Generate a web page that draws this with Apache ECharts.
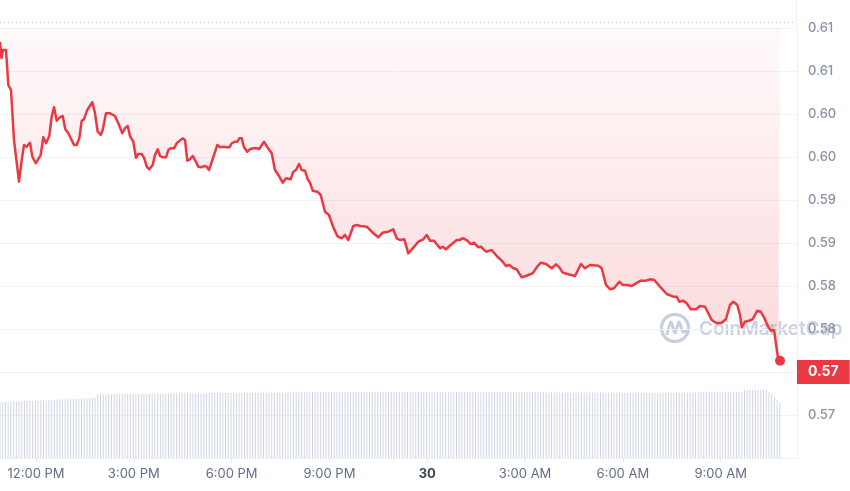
<!DOCTYPE html>
<html><head><meta charset="utf-8">
<script src="https://cdn.jsdelivr.net/npm/echarts@6/dist/echarts.min.js"></script>
<style>html,body{margin:0;padding:0;background:#fff}#c{width:850px;height:491px}</style>
</head><body><div id="c"></div>
<script>
// time = hours since 00:00 on the 29th
const priceTimes = [10.896,10.942,10.988,11.080,11.151,11.233,11.325,11.479,11.562,11.632,11.715,11.816,11.887,11.991,12.144,12.224,12.307,12.408,12.482,12.552,12.635,12.736,12.819,12.899,12.991,13.166,13.248,13.328,13.402,13.472,13.573,13.727,13.810,13.892,13.984,14.046,14.147,14.270,14.423,14.524,14.647,14.730,14.813,14.883,14.984,15.067,15.138,15.242,15.322,15.395,15.475,15.579,15.650,15.733,15.803,15.886,15.987,16.058,16.131,16.233,16.315,16.499,16.570,16.640,16.723,16.806,16.877,16.978,17.082,17.153,17.235,17.306,17.438,17.561,17.643,17.726,17.849,17.929,18.002,18.103,18.174,18.235,18.309,18.379,18.481,18.564,18.665,18.769,18.849,18.993,19.085,19.229,19.330,19.432,19.566,19.668,19.812,19.892,19.974,20.066,20.149,20.250,20.333,20.404,20.486,20.628,20.732,20.864,20.986,21.118,21.241,21.376,21.477,21.578,21.732,21.854,21.937,22.142,22.296,22.498,22.633,22.805,22.958,23.063,23.164,23.296,23.418,23.553,23.726,23.879,23.983,24.084,24.207,24.391,24.473,24.575,24.719,24.903,24.983,25.105,25.228,25.332,25.434,25.566,25.648,25.740,25.823,25.976,26.130,26.314,26.415,26.516,26.639,26.743,26.896,27.028,27.234,27.357,27.479,27.642,27.817,27.948,28.050,28.154,28.326,28.531,28.715,28.838,28.991,29.246,29.350,29.482,29.605,29.727,29.890,29.994,30.135,30.270,30.402,30.546,30.709,30.853,30.963,31.138,31.344,31.546,31.650,31.730,31.853,31.957,32.080,32.242,32.365,32.518,32.620,32.724,32.877,33.031,33.163,33.285,33.387,33.509,33.592,33.644,33.745,33.877,33.981,34.122,34.227,34.328,34.429,34.533,34.635,34.696,34.767,34.819];
const priceValues = [0.60837,0.60651,0.60744,0.60744,0.60337,0.60279,0.59698,0.59213,0.59465,0.59640,0.59620,0.59666,0.59504,0.59427,0.59523,0.59729,0.59659,0.59744,0.59969,0.60078,0.59922,0.59962,0.59977,0.59822,0.59776,0.59640,0.59640,0.59717,0.59922,0.59938,0.60047,0.60136,0.60008,0.59794,0.59756,0.59814,0.60008,0.60008,0.59977,0.59892,0.59776,0.59834,0.59860,0.59744,0.59678,0.59492,0.59535,0.59535,0.59485,0.59387,0.59357,0.59407,0.59523,0.59590,0.59512,0.59497,0.59497,0.59581,0.59601,0.59601,0.59659,0.59717,0.59698,0.59457,0.59473,0.59512,0.59465,0.59387,0.59380,0.59395,0.59387,0.59349,0.59497,0.59640,0.59613,0.59620,0.59613,0.59613,0.59659,0.59678,0.59678,0.59717,0.59717,0.59613,0.59562,0.59590,0.59601,0.59601,0.59593,0.59678,0.59620,0.59543,0.59349,0.59291,0.59201,0.59252,0.59241,0.59329,0.59349,0.59419,0.59349,0.59341,0.59241,0.59201,0.59108,0.59097,0.59058,0.58864,0.58826,0.58683,0.58581,0.58555,0.58593,0.58535,0.58698,0.58709,0.58698,0.58690,0.58631,0.58566,0.58620,0.58631,0.58659,0.58555,0.58535,0.58543,0.58380,0.58438,0.58515,0.58543,0.58593,0.58527,0.58527,0.58438,0.58457,0.58427,0.58477,0.58535,0.58535,0.58555,0.58527,0.58488,0.58504,0.58450,0.58457,0.58419,0.58399,0.58419,0.58349,0.58283,0.58233,0.58244,0.58206,0.58194,0.58101,0.58116,0.58148,0.58217,0.58271,0.58256,0.58206,0.58252,0.58217,0.58155,0.58136,0.58116,0.58256,0.58206,0.58244,0.58236,0.58206,0.58012,0.57962,0.57973,0.58050,0.58012,0.58012,0.58000,0.58031,0.58062,0.58062,0.58078,0.58070,0.57992,0.57907,0.57876,0.57876,0.57817,0.57829,0.57799,0.57729,0.57729,0.57767,0.57759,0.57683,0.57605,0.57566,0.57573,0.57616,0.57779,0.57817,0.57779,0.57663,0.57520,0.57585,0.57597,0.57613,0.57713,0.57701,0.57636,0.57547,0.57480,0.57488,0.57497,0.57140,0.57131];
// 5-minute volume bars (arbitrary units), starting at the first price time
const volumeStart = 10.896;
const volumeStepHours = 5 / 60;
const volumeValues = [
56,56,56,56.3,56.3,56.5,56.5,56.7,56.7,57,57,
57,57.3,57.3,57.5,57.5,57.7,57.7,58,58,58.2,58.2,
58.5,58.5,58.7,58.7,59,59,59.3,59.3,59.5,59.5,59.8,60,60,60.2,
63.7,63.7,63.7,63.7,63.7,63.7,63.7,63.7,63.7,64,64,64,64,64,64,64,64,64,64.3,64.3,64.3,64.3,64.3,64.3,64.3,64.3,64.3,
64.7,64.7,64.7,64.7,64.7,64.7,64.7,64.7,64.7,64.7,64.7,64.7,65,65,65,65,65,65,65,65,65,65,65,
65.3,65.3,65.3,65.3,65.3,65.3,65.3,65.3,65.3,65.3,65.3,65.3,65.3,65.3,65.3,65.3,65.3,65.3,65.3,65.3,
65.7,65.7,65.7,65.7,65.7,65.7,65.7,65.7,65.7,65.7,65.7,65.7,65.7,65.7,65.7,65.7,65.7,65.7,65.7,65.7,65.7,65.7,65.7,65.7,65.7,65.7,65.7,65.7,65.7,65.7,
66,66,66,66,66,66,66,66,66,66,66,66,66,66,66,66,66,66,66,66,66,66,66,66,66,66,66,66,66,66,66,66,66,66,66,66,66,66,66,66,
65.7,65.7,65.7,65.7,65.7,65.7,65.7,65.7,65.7,65.7,65.7,65.7,65.7,65.7,65.7,65.7,65.7,65.7,65.7,65.7,65.7,65.7,65.7,65.7,65.7,
65.5,65.5,65.5,65.5,65.5,65.5,65.5,65.5,65.5,65.5,65.5,65.5,65.5,65.5,65.5,65.5,65.5,65.5,65.5,65.5,
65.3,65.3,65.3,65.3,65.3,65.3,65.3,65.3,65.3,65.3,65.3,65.3,65.3,65.3,65.3,65.3,65.3,65.3,65.3,65.3,65.3,65.3,65.3,65.3,65.3,65.3,65.3,65.3,65.3,65.3,65.3,65.3,65.3,65.3,65.3,65.3,65.3,
66.3,66.3,66.3,66.3,66.3,66.3,66.3,66.3,66.3,66.3,66.3,66.3,66.3,66.3,66.3,66.3,
68,68,68,68,68,68,68,68,68,
66.3,64,61.3,58,55];
const xTickValues = [12, 15, 18, 21, 24, 27, 30, 33];
const xTickLabels = ['12:00 PM','3:00 PM','6:00 PM','9:00 PM','30','3:00 AM','6:00 AM','9:00 AM'];
const xMin = 10.896, xMax = 35.34;
const yMin = 0.56, yMax = 0.61, yStep = 0.005;

const n = Math.min(priceTimes.length, priceValues.length);
const priceData = [];
for (let i = 0; i < n; i++) priceData.push([priceTimes[i], priceValues[i]]);
const volumeData = volumeValues.map((v, i) => [volumeStart + i * volumeStepHours, v]);
const lastTime = priceTimes[n - 1], lastPrice = priceValues[n - 1];

const chart = echarts.init(document.getElementById('c'));
chart.setOption({
  animation: false,
  backgroundColor: '#ffffff',
  grid: { left: 0, right: 53, top: 28, bottom: 33 },
  xAxis: {
    type: 'value', min: xMin, max: xMax,
    axisLine: { show: true, lineStyle: { color: '#eef0f4', width: 1 } },
    axisTick: { show: true, customValues: xTickValues, length: 4, lineStyle: { color: '#e3e6ec' } },
    splitLine: { show: false },
    axisLabel: {
      customValues: xTickValues,
      margin: 10, color: '#616e85', fontSize: 13, fontFamily: 'Inter',
      formatter: function (v) {
        const i = xTickValues.indexOf(Math.round(v));
        const t = i >= 0 ? xTickLabels[i] : '';
        return t === '30' ? '{b|30}' : t;
      },
      rich: { b: { fontWeight: 'bold', color: '#3a4457', fontSize: 13, fontFamily: 'Inter' } }
    }
  },
  yAxis: [
    {
      type: 'value', position: 'right', min: yMin, max: yMax, interval: yStep,
      axisLine: { show: true, lineStyle: { color: '#eef0f4' } },
      axisTick: { show: false },
      splitLine: { show: true, lineStyle: { color: '#f1f3f6', width: 1 } },
      axisLabel: {
        margin: 11, color: '#8a93a6', fontSize: 13, fontFamily: 'Inter', fontWeight: 500,
        formatter: function (v) {
          if (v < 0.5625) return '';
          return (Math.round(v * 100 + 1e-6) / 100).toFixed(2);
        }
      }
    },
    { type: 'value', min: 0, max: 430, show: false, splitLine: { show: false } }
  ],
  graphic: [
    { type: 'line', silent: true, shape: { x1: 0, y1: 22.5, x2: 795, y2: 22.5 },
      style: { stroke: '#b9c0cc', lineWidth: 1, lineDash: [1, 3] } },
    { type: 'line', silent: true, shape: { x1: 796.5, y1: 0, x2: 796.5, y2: 28 },
      style: { stroke: '#eef0f4', lineWidth: 1 } },
    { type: 'group', silent: true, z: 1, children: [
      { type: 'circle', shape: { cx: 675, cy: 328, r: 13.5 },
        style: { fill: 'none', stroke: '#c6cfdd', lineWidth: 3.2 } },
      { type: 'polyline', shape: { points: [[667, 335], [671, 322], [675, 333], [679, 322], [683, 332], [687, 330]], smooth: 0.3 },
        style: { fill: 'none', stroke: '#c6cfdd', lineWidth: 3 } },
      { type: 'text', x: 699, y: 329,
        style: { text: 'CoinMarketCap', fill: '#cad2e0', font: '600 19px Inter', verticalAlign: 'middle', align: 'left' } }
    ] }
  ],
  series: [
    {
      type: 'bar', yAxisIndex: 1, data: volumeData, barWidth: 1, silent: true, z: 1,
      itemStyle: { color: '#cfd6e3' }
    },
    {
      type: 'line', data: priceData, showSymbol: false, silent: true, z: 3,
      lineStyle: { color: '#ea3943', width: 2.5, join: 'round' },
      areaStyle: {
        origin: 'end',
        color: new echarts.graphic.LinearGradient(0, 0, 0, 1, [
          { offset: 0, color: 'rgba(234,57,67,0.04)' },
          { offset: 1, color: 'rgba(234,57,67,0.27)' }
        ])
      },
      markPoint: {
        silent: true, symbol: 'circle', symbolSize: 10,
        itemStyle: { color: '#ea3943' }, label: { show: false },
        data: [{ coord: [lastTime, lastPrice] }]
      },
      markLine: {
        silent: true, symbol: ['none', 'none'],
        lineStyle: { color: 'rgba(0,0,0,0)', width: 0 },
        label: {
          show: true, position: 'end', distance: 0,
          formatter: function () { return lastPrice.toFixed(2); },
          backgroundColor: '#ea3943', color: '#ffffff', fontWeight: 'bold',
          fontSize: 14, fontFamily: 'Inter', padding: [5, 11, 5, 11]
        },
        data: [{ yAxis: lastPrice }]
      }
    }
  ]
});
</script>
</body></html>
